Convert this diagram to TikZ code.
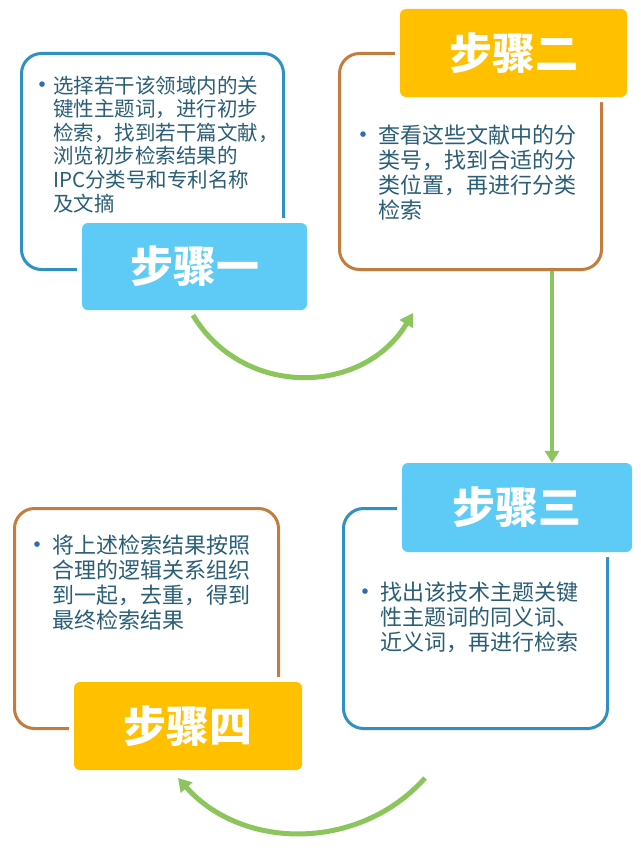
\documentclass[tikz,border=0pt]{standalone}
\usepackage{fontspec}
\setmainfont{Noto Sans CJK SC}
\usetikzlibrary{arrows.meta}
\definecolor{bstroke}{HTML}{2F90C4}
\definecolor{ostroke}{HTML}{C47B3E}
\definecolor{lblue}{HTML}{5DCBF5}
\definecolor{lamber}{HTML}{FFC000}
\definecolor{agreen}{HTML}{8CC55C}
\definecolor{tcol}{HTML}{2A5E76}
\definecolor{bulc}{HTML}{2F6DB0}
\tikzset{
  panel/.style={line width=3pt, rounded corners=20pt, fill=white, inner sep=0pt, anchor=north west},
  lbl/.style={rounded corners=6pt, inner sep=0pt, text=white,
    font=\fontsize{43}{43}\selectfont\bfseries,
    preaction={draw=white, line width=10pt}},
  txt/.style={inner sep=0pt, anchor=base west, text=tcol},
  arr/.style={draw=agreen, line width=5pt, -{Triangle[length=13pt,width=15pt]}},
}
\newcommand{\bul}[1]{\leavevmode\llap{\textcolor{bulc}{\fontsize{26}{26}\selectfont\raisebox{-0.04em}{•}}\hspace{#1}}}
\begin{document}
\begin{tikzpicture}[x=1pt,y=-1pt]
\useasboundingbox (0,0) rectangle (640,851);
\fill[white] (0,0) rectangle (640,851);
% panels
\node[panel, draw=bstroke, minimum width=262pt, minimum height=216pt] (b1) at (20,52) {};
\node[panel, draw=ostroke, minimum width=262pt, minimum height=216pt] (b2) at (338,52) {};
\node[panel, draw=bstroke, minimum width=264pt, minimum height=220pt] (b3) at (342,507) {};
\node[panel, draw=ostroke, minimum width=264pt, minimum height=220pt] (b4) at (13,507) {};
% labels
\node[lbl, fill=lblue, minimum width=225pt, minimum height=87pt] (l1) at (194.5,266.5) {步骤一};
\node[lbl, fill=lamber, minimum width=227pt, minimum height=88pt] (l2) at (513.5,53) {步骤二};
\node[lbl, fill=lblue, minimum width=230pt, minimum height=89pt] (l3) at (517,507.5) {步骤三};
\node[lbl, fill=lamber, minimum width=228pt, minimum height=88pt] (l4) at (188,726) {步骤四};
% texts
\node[txt, font=\fontsize{20.5}{23.6}\selectfont] (t1) at (53,93)
  {\parbox[t]{250pt}{\bul{-2pt}选择若干该领域内的关\\键性主题词，进行初步\\检索，找到若干篇文献，\\浏览初步检索结果的\\IPC分类号和专利名称\\及文摘}};
\node[txt, font=\fontsize{22}{25}\selectfont] (t2) at (378,143.4)
  {\parbox[t]{250pt}{\bul{2pt}查看这些文献中的分\\类号，找到合适的分\\类位置，再进行分类\\检索}};
\node[txt, font=\fontsize{22}{25}\selectfont] (t3) at (380,600.4)
  {\parbox[t]{250pt}{\bul{2pt}找出该技术主题关键\\性主题词的同义词、\\近义词，再进行检索}};
\node[txt, font=\fontsize{22}{25}\selectfont] (t4) at (52,553.4)
  {\parbox[t]{250pt}{\bul{2pt}将上述检索结果按照\\合理的逻辑关系组织\\到一起，去重，得到\\最终检索结果}};
% connectors
\coordinate (a1e) at (413,313);
\coordinate (a4s) at (425,778);
\coordinate (a4e) at (178,778);
\coordinate (vx) at (552,0);
\draw[arr] (l1.south) ++(-1.5,5) .. controls +(50,83) and +(-50,83) .. (a1e);
\draw[arr, line width=4pt, -{Triangle[length=12pt,width=14pt]}] (b2.south -| vx) -- (l3.north -| vx);
\draw[arr] (a4s) .. controls +(-65,73) and +(65,73) .. (a4e);
\end{tikzpicture}
\end{document}
